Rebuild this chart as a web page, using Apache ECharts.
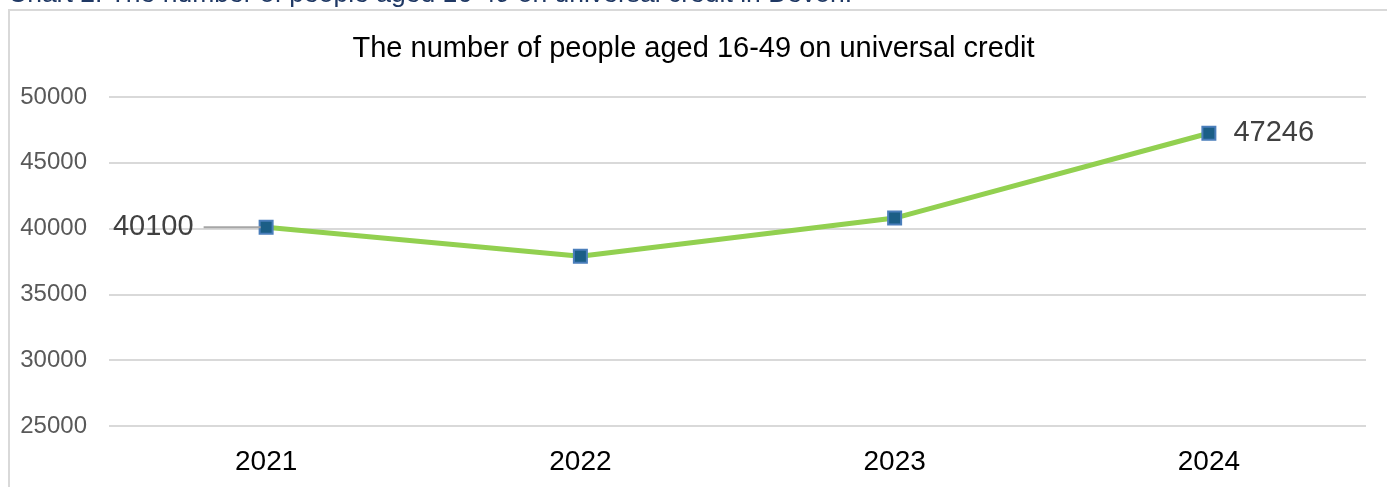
<!DOCTYPE html>
<html>
<head>
<meta charset="utf-8">
<script src="https://cdn.jsdelivr.net/npm/echarts@6/dist/echarts.min.js"></script>
<style>
html,body{margin:0;padding:0;background:#fff;}
#wrap{position:relative;width:1387px;height:487px;overflow:hidden;}
#box{position:absolute;left:8px;top:9px;width:1400px;height:500px;border-left:2px solid #d9d9d9;border-top:2px solid #d9d9d9;box-sizing:border-box;}
#chart{position:absolute;left:0;top:0;width:1387px;height:487px;}
</style>
</head>
<body>
<div id="wrap"><div id="box"></div><div id="chart"></div></div>
<script>
const categories = ['2021', '2022', '2023', '2024'];
const values = [40100, 37900, 40800, 47246];
const labelledValues = {'2021': 'left', '2024': 'right'};
const chartTitle = 'The number of people aged 16-49 on universal credit';
const caption = 'Chart 2: The number of people aged 16-49 on universal credit in Devon.';

const chart = echarts.init(document.getElementById('chart'));
const FONT = '"Liberation Sans", Arial, sans-serif';

const seriesData = values.map((v, i) => {
  const pos = labelledValues[categories[i]];
  const item = {value: v};
  if (pos === 'left') {
    item.label = {show: true, position: 'left', distance: -2,
      formatter: '{a|{c}}{g|}',
      rich: {
        a: {fontSize: 29, color: '#404040', fontFamily: FONT, padding: [0, 10, 0, 0]},
        g: {width: 57, height: 2, backgroundColor: '#a6a6a6'}
      }};
  } else if (pos === 'right') {
    item.label = {show: true, position: 'right', distance: 17,
      fontSize: 29, color: '#404040', fontFamily: FONT};
  }
  return item;
});

chart.setOption({
  animation: false,
  title: {text: chartTitle, left: 'center', top: 29,
    textStyle: {fontSize: 29, fontWeight: 'normal', color: '#000', fontFamily: FONT}},
  graphic: [{type: 'text', x: 8, y: -5,
    style: {text: caption, fontSize: 26.5, fill: '#1f3864', fontFamily: FONT,
      verticalAlign: 'middle', align: 'left'}}],
  grid: {left: 109, right: 21, top: 97, bottom: 61, containLabel: false},
  xAxis: {type: 'category', data: categories, boundaryGap: true,
    axisLine: {show: false}, axisTick: {show: false},
    axisLabel: {fontSize: 28, color: '#000', fontFamily: FONT, margin: 22}},
  yAxis: {type: 'value', min: 25000, max: 50000, interval: 5000,
    axisLine: {show: false}, axisTick: {show: false},
    splitLine: {lineStyle: {color: '#d9d9d9', width: 2}},
    axisLabel: {fontSize: 24, color: '#595959', fontFamily: FONT, margin: 22,
      formatter: v => String(v)}},
  series: [{type: 'line', data: seriesData, symbol: 'rect', symbolSize: 13,
    lineStyle: {color: '#92d050', width: 5},
    itemStyle: {color: '#1b5e86', borderColor: '#4a7ebb', borderWidth: 2},
    label: {show: false}}]
});
</script>
</body>
</html>
